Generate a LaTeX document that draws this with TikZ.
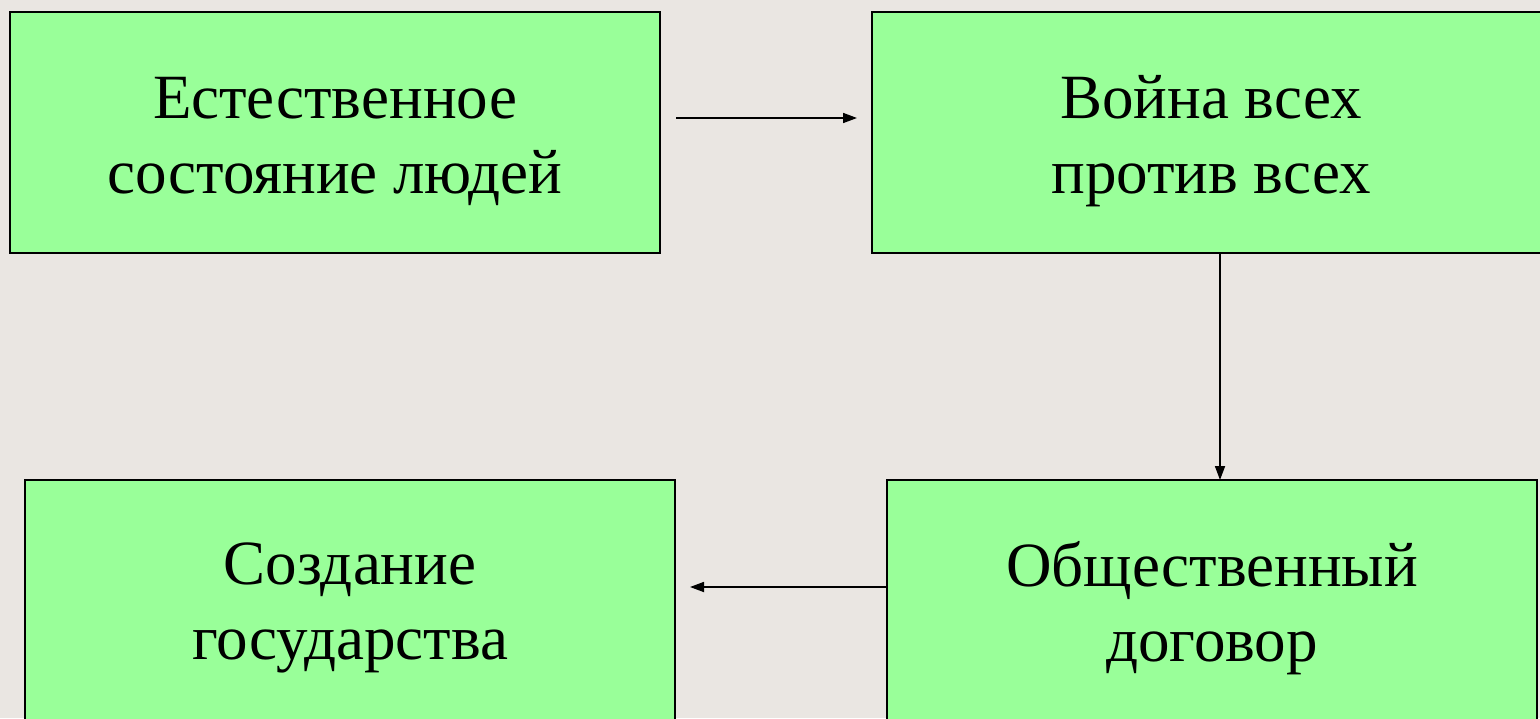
\documentclass[tikz,border=0pt]{standalone}
\usepackage{fontspec}
\setmainfont{Liberation Serif}
\usetikzlibrary{arrows.meta}
\definecolor{bgc}{HTML}{EAE6E2}
\definecolor{boxgreen}{HTML}{99FF99}
\tikzset{
  box/.style={draw=black, line width=1pt, fill=boxgreen, rectangle, outer sep=0pt, inner sep=0pt},
  txt/.style={align=center, font=\fontsize{31.5}{37.5}\selectfont, inner sep=0pt, text=black},
  arr/.style={-{Triangle[length=7pt,width=5pt]}, line width=0.85pt, black}
}
\begin{document}
\begin{tikzpicture}[x=0.5pt,y=-0.5pt]
\useasboundingbox (0,0) rectangle (1540,718);
\fill[bgc] (0,0) rectangle (1540,718);
\clip (0,0) rectangle (1540,718);
\node[box, minimum width=325pt, minimum height=120.5pt] (b1) at (335,132.5) {};
\node[box, minimum width=339pt, minimum height=120.5pt] (b2) at (1211,132.5) {};
\node[box, minimum width=325pt, minimum height=120.5pt] (b3) at (350,600.5) {};
\node[box, minimum width=325pt, minimum height=120.5pt] (b4) at (1212,600.5) {};
\node[txt, yshift=-4.5pt] (t1) at (b1.center) {Естественное\\состояние людей};
\node[txt, yshift=-4.5pt] (t2) at (b2.center) {Война всех\\против всех};
\node[txt, yshift=-3.75pt] (t3) at (b3.center) {Создание\\государства};
\node[txt, yshift=-3.75pt] (t4) at (b4.center) {Общественный\\договор};
\draw[arr] ([xshift=8pt,yshift=7.25pt]b1.east) -- ([xshift=-7.5pt,yshift=7.25pt]b2.west);
\draw[arr] ([xshift=4.5pt]b2.south) -- ([xshift=4pt]b4.north);
\draw[arr] ([yshift=6.75pt]b4.west) -- ([xshift=7.5pt,yshift=6.75pt]b3.east);
\end{tikzpicture}
\end{document}
